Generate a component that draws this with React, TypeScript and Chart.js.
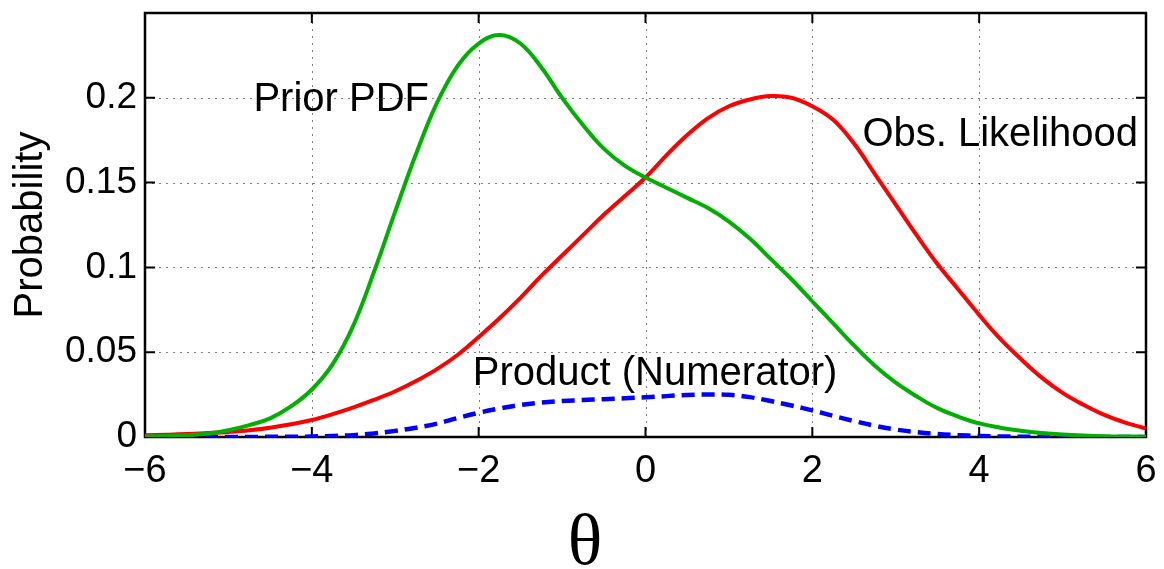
import React, { useEffect, useRef } from "react";
import { Chart, registerables } from "chart.js";

Chart.register(...registerables);

// theta sample positions (x values)
const theta = [
  -6, -5.75, -5.5, -5.25, -5, -4.75, -4.5, -4.25, -4, -3.75, -3.5, -3.25, -3, -2.75, -2.5, -2.25, -2,
  -1.75, -1.5, -1.25, -1, -0.75, -0.5, -0.25, 0, 0.25, 0.5, 0.75, 1, 1.25, 1.5, 1.75, 2, 2.25, 2.5,
  2.75, 3, 3.25, 3.5, 3.75, 4, 4.25, 4.5, 4.75, 5, 5.25, 5.5, 5.75, 6,
];
// Prior PDF (green)
const priorPdf = [
  0.0003, 0.0006, 0.001, 0.002, 0.004, 0.007, 0.011, 0.018, 0.028, 0.043, 0.066, 0.098, 0.133, 0.167, 0.197, 0.219, 0.232,
  0.237, 0.232, 0.218, 0.2, 0.184, 0.17, 0.16, 0.153, 0.147, 0.141, 0.135, 0.127, 0.117, 0.105, 0.093, 0.08, 0.067, 0.054,
  0.042, 0.032, 0.024, 0.017, 0.012, 0.008, 0.0055, 0.0037, 0.0024, 0.0015, 0.0009, 0.0005, 0.0003, 0.0002,
];
// Observation likelihood (red)
const obsLikelihood = [
  0.001, 0.0013, 0.0017, 0.0023, 0.003, 0.004, 0.0055, 0.0075, 0.01, 0.0135, 0.0175, 0.022, 0.027, 0.033, 0.04, 0.0485, 0.059,
  0.07, 0.082, 0.095, 0.107, 0.119, 0.131, 0.142, 0.153, 0.166, 0.178, 0.188, 0.195, 0.199, 0.201, 0.2, 0.195, 0.187, 0.173,
  0.155, 0.137, 0.119, 0.102, 0.087, 0.072, 0.058, 0.046, 0.035, 0.026, 0.019, 0.013, 0.0085, 0.005,
];
// Product (numerator), blue dashed
const product = [
  0, 0, 0, 0, 0, 0, 0.0001, 0.0001, 0.0003, 0.0006, 0.0011, 0.0021, 0.0036, 0.0055, 0.0079, 0.0112, 0.0143,
  0.0168, 0.0189, 0.0203, 0.0212, 0.0218, 0.0223, 0.0228, 0.0234, 0.0241, 0.0248, 0.0251, 0.0249, 0.0235, 0.0212, 0.0186, 0.0157, 0.0125, 0.0094,
  0.0066, 0.0044, 0.0029, 0.0018, 0.0011, 0.0006, 0.0003, 0.0002, 0.0001, 0, 0, 0, 0, 0,
];

const xTicks = [-6, -4, -2, 0, 2, 4, 6];
const yTicks = [0, 0.05, 0.1, 0.15, 0.2];

const curveLabels = ["Prior PDF", "Obs. Likelihood", "Product (Numerator)"];
const curveLabelX = [-4.7, 2.6, -2.07];
const curveLabelY = [0.1923, 0.1716, 0.0308];

const SANS = '"Liberation Sans", Arial, Helvetica, sans-serif';
const SERIF = '"Liberation Serif", "Times New Roman", serif';

const fmtX = (v: number) => (v < 0 ? "\u2212" + Math.abs(v) : String(v));
const fmtY = (v: number) => String(Number(v.toFixed(2)));

const framePlugin = {
  id: "matlabFrame",
  beforeDatasetsDraw(chart: any) {
    const { ctx, chartArea } = chart;
    const { left, right, top, bottom } = chartArea;
    const xs = chart.scales.x;
    const ys = chart.scales.y;
    ctx.save();
    // dotted grid
    ctx.strokeStyle = "rgba(0,0,0,0.5)";
    ctx.lineWidth = 1;
    ctx.setLineDash([2, 5]);
    xTicks.forEach((v) => {
      const px = Math.round(xs.getPixelForValue(v)) + 0.5;
      ctx.beginPath();
      ctx.moveTo(px, bottom);
      ctx.lineTo(px, top);
      ctx.stroke();
    });
    yTicks.forEach((v) => {
      const py = Math.round(ys.getPixelForValue(v)) + 0.5;
      ctx.beginPath();
      ctx.moveTo(left, py);
      ctx.lineTo(right, py);
      ctx.stroke();
    });
    ctx.setLineDash([]);
    // frame
    ctx.strokeStyle = "#000";
    ctx.lineWidth = 2.5;
    ctx.strokeRect(left, top, right - left, bottom - top);
    // inward ticks on all four sides
    const tl = 10;
    ctx.lineWidth = 2;
    xTicks.forEach((v) => {
      const px = xs.getPixelForValue(v);
      ctx.beginPath();
      ctx.moveTo(px, bottom);
      ctx.lineTo(px, bottom - tl);
      ctx.moveTo(px, top);
      ctx.lineTo(px, top + tl);
      ctx.stroke();
    });
    yTicks.forEach((v) => {
      const py = ys.getPixelForValue(v);
      ctx.beginPath();
      ctx.moveTo(left, py);
      ctx.lineTo(left + tl, py);
      ctx.moveTo(right, py);
      ctx.lineTo(right - tl, py);
      ctx.stroke();
    });
    ctx.restore();
  },
  afterDraw(chart: any) {
    const { ctx } = chart;
    const xs = chart.scales.x;
    const ys = chart.scales.y;
    ctx.save();
    ctx.fillStyle = "#000";
    ctx.font = "40px " + SANS;
    ctx.textAlign = "left";
    ctx.textBaseline = "alphabetic";
    curveLabels.forEach((t, i) => {
      ctx.fillText(t, xs.getPixelForValue(curveLabelX[i]), ys.getPixelForValue(curveLabelY[i]));
    });
    // y title
    ctx.save();
    ctx.translate(42, 225);
    ctx.rotate(-Math.PI / 2);
    ctx.textAlign = "center";
    ctx.font = "40px " + SANS;
    ctx.fillText("Probability", 0, 0);
    ctx.restore();
    // x title
    ctx.font = "72px " + SERIF;
    ctx.textAlign = "center";
    ctx.fillText("\u03b8", 585, 564);
    ctx.restore();
  },
};

export default function App() {
  const canvasRef = useRef<HTMLCanvasElement | null>(null);

  useEffect(() => {
    if (!canvasRef.current) return;
    const mk = (ys: number[]) => theta.map((x, i) => ({ x, y: ys[i] }));
    const lineBase = {
      borderWidth: 4,
      pointRadius: 0,
      tension: 0.4,
      fill: false,
      borderCapStyle: "butt",
      borderJoinStyle: "round",
    };
    const chart = new Chart(canvasRef.current, {
      type: "line",
      data: {
        datasets: [
          { ...lineBase, label: "Prior PDF", data: mk(priorPdf), borderColor: "#00b000" },
          { ...lineBase, label: "Obs. Likelihood", data: mk(obsLikelihood), borderColor: "#ff0000" },
          {
            ...lineBase,
            label: "Product (Numerator)",
            data: mk(product),
            borderColor: "#0000ff",
            borderWidth: 4.5,
            borderDash: [13, 7],
          },
        ],
      },
      options: {
        responsive: false,
        animation: false,
        layout: { padding: { left: 0, top: 13, right: 18, bottom: 0 } },
        plugins: { legend: { display: false }, tooltip: { enabled: false } },
        scales: {
          x: {
            type: "linear",
            min: -6,
            max: 6,
            grid: { display: false, drawTicks: false },
            border: { display: false },
            afterBuildTicks: (s: any) => {
              s.ticks = xTicks.map((v) => ({ value: v }));
            },
            afterFit: (s: any) => {
              s.height = 132;
              s.paddingLeft = 0;
              s.paddingRight = 0;
            },
            ticks: {
              color: "#000",
              font: { family: SANS, size: 38 },
              padding: 12,
              maxRotation: 0,
              autoSkip: false,
              callback: (v: any) => fmtX(Number(v)),
            },
          },
          y: {
            type: "linear",
            min: 0,
            max: 0.25,
            grid: { display: false, drawTicks: false },
            border: { display: false },
            afterBuildTicks: (s: any) => {
              s.ticks = yTicks.map((v) => ({ value: v }));
            },
            afterFit: (s: any) => {
              s.width = 145;
              s.paddingTop = 0;
              s.paddingBottom = 0;
            },
            ticks: {
              color: "#000",
              font: { family: SANS, size: 37 },
              padding: 8,
              autoSkip: false,
              callback: (v: any) => fmtY(Number(v)),
            },
          },
        },
      },
      plugins: [framePlugin],
    } as any);
    return () => chart.destroy();
  }, []);

  return (
    <div style={{ position: "fixed", left: 0, top: 0, width: 1164, height: 569, background: "#fff" }}>
      <canvas ref={canvasRef} width={1164} height={569} style={{ display: "block", width: 1164, height: 569 }} />
    </div>
  );
}
